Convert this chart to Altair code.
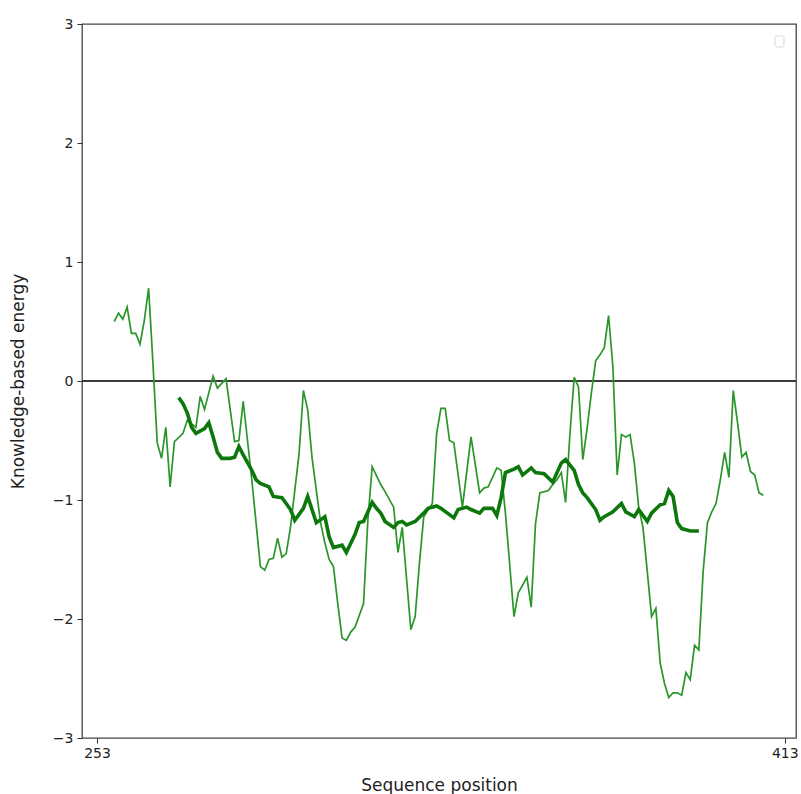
import altair as alt
import pandas as pd

# Window-averaged knowledge-based energy along the sequence (short window)
short_pos = [257, 258, 259, 260, 261, 262, 263, 264, 265, 266, 267, 268, 269, 270, 271, 273, 274, 276, 277, 278,
             279, 280, 281, 283, 285, 286, 287, 289, 291, 292, 293, 294, 295, 296, 297, 298, 300, 301, 302, 303,
             305, 306, 307, 308, 309, 310, 311, 312, 313, 315, 316, 317, 319, 320, 322, 323, 324, 326, 327, 328,
             329, 331, 332, 333, 334, 335, 336, 338, 340, 342, 343, 344, 346, 347, 348, 350, 351, 353, 354, 355,
             356, 358, 359, 360, 361, 362, 363, 364, 365, 366, 367, 368, 369, 370, 371, 372, 373, 374, 375, 376,
             377, 378, 379, 380, 381, 382, 383, 384, 385, 386, 387, 388, 389, 390, 391, 392, 393, 394, 395, 396,
             397, 398, 399, 400, 401, 402, 403, 404, 405, 406, 407, 408]
short_energy = [0.50, 0.57, 0.52, 0.62, 0.40, 0.40, 0.31, 0.51, 0.78, 0.15, -0.52, -0.65, -0.39, -0.89, -0.51, -0.44, -0.33, -0.39, -0.13, -0.24,
                -0.10, 0.04, -0.06, 0.02, -0.51, -0.50, -0.17, -0.83, -1.56, -1.59, -1.50, -1.49, -1.32, -1.48, -1.45, -1.23, -0.61, -0.08, -0.24, -0.64,
                -1.19, -1.36, -1.50, -1.56, -1.87, -2.16, -2.18, -2.11, -2.07, -1.87, -1.17, -0.72, -0.87, -0.93, -1.06, -1.44, -1.23, -2.09, -1.98, -1.53,
                -1.14, -1.03, -0.44, -0.23, -0.23, -0.50, -0.52, -1.06, -0.47, -0.94, -0.90, -0.89, -0.73, -0.75, -1.11, -1.98, -1.78, -1.65, -1.90, -1.20,
                -0.94, -0.92, -0.87, -0.83, -0.77, -1.02, -0.45, 0.03, -0.05, -0.66, -0.40, -0.10, 0.17, 0.22, 0.28, 0.55, 0.12, -0.79, -0.45, -0.47,
                -0.45, -0.69, -1.06, -1.23, -1.60, -1.98, -1.91, -2.37, -2.54, -2.66, -2.62, -2.62, -2.64, -2.45, -2.51, -2.22, -2.26, -1.60, -1.19, -1.10,
                -1.03, -0.83, -0.60, -0.81, -0.08, -0.35, -0.64, -0.60, -0.76, -0.79, -0.94, -0.96]

# Long-window average
long_pos = [272, 273, 274, 275, 276, 278, 279, 280, 281, 282, 284, 285, 286, 287, 289, 290, 291, 293, 294, 296,
            297, 298, 299, 301, 302, 303, 304, 306, 307, 308, 310, 311, 313, 314, 315, 317, 318, 319, 320, 322,
            323, 324, 325, 327, 329, 330, 332, 333, 336, 337, 339, 340, 342, 343, 345, 346, 347, 348, 350, 351,
            352, 354, 355, 357, 359, 360, 361, 362, 364, 365, 366, 367, 369, 370, 371, 373, 375, 376, 378, 379,
            381, 382, 384, 385, 386, 387, 388, 389, 391, 393]
long_energy = [-0.14, -0.19, -0.27, -0.39, -0.44, -0.40, -0.35, -0.47, -0.60, -0.65, -0.65, -0.64, -0.55, -0.62, -0.75, -0.83, -0.86, -0.89, -0.97, -0.98,
               -1.03, -1.08, -1.17, -1.07, -0.97, -1.08, -1.19, -1.14, -1.31, -1.40, -1.38, -1.44, -1.29, -1.19, -1.18, -1.02, -1.07, -1.11, -1.18, -1.23,
               -1.19, -1.18, -1.21, -1.18, -1.11, -1.07, -1.05, -1.07, -1.15, -1.08, -1.06, -1.08, -1.11, -1.07, -1.07, -1.13, -0.98, -0.77, -0.74, -0.72,
               -0.79, -0.73, -0.77, -0.78, -0.85, -0.77, -0.69, -0.66, -0.75, -0.87, -0.94, -0.98, -1.08, -1.17, -1.14, -1.10, -1.03, -1.10, -1.14, -1.08,
               -1.18, -1.11, -1.04, -1.03, -0.92, -0.97, -1.19, -1.24, -1.26, -1.26]

x_ticks = [253, 413]
y_ticks = [-3, -2, -1, 0, 1, 2, 3]
x_range = [249.5, 415.6]
y_range = [-3, 3]

short_df = pd.DataFrame({"pos": short_pos, "energy": short_energy})
long_df = pd.DataFrame({"pos": long_pos, "energy": long_energy})
zero_df = pd.DataFrame({"energy": [0]})

FONT = "DejaVu Sans"
x_scale = alt.Scale(domain=x_range, nice=False, zero=False)
y_scale = alt.Scale(domain=y_range, nice=False, zero=False)

x_axis = alt.Axis(values=x_ticks, title="Sequence position", grid=False, domain=False,
                  tickSize=5, tickColor="#333", labelColor="#222", labelFontSize=14, labelFont=FONT,
                  labelPadding=3, titleFont=FONT, titleFontSize=17, titleFontWeight="normal",
                  titleColor="#222", titleY=52, titleBaseline="alphabetic")
y_axis = alt.Axis(values=y_ticks, title="Knowledge-based energy", grid=False, domain=False, format="d",
                  tickSize=5, tickColor="#333", labelColor="#222", labelFontSize=14, labelFont=FONT,
                  labelPadding=4, titleFont=FONT, titleFontSize=17, titleFontWeight="normal",
                  titleColor="#222", titleX=-64, titleY=357, titleAngle=270,
                  titleAlign="center", titleBaseline="middle")

X = alt.X("pos:Q", scale=x_scale, axis=x_axis, title="Sequence position")
Y = alt.Y("energy:Q", scale=y_scale, axis=y_axis, title="Knowledge-based energy")

short_line = alt.Chart(short_df).mark_line(color="#2a962a", strokeWidth=1.7).encode(x=X, y=Y)

long_line = alt.Chart(long_df).mark_line(color="#0c780c", strokeWidth=3.6).encode(x=X, y=Y)

zero_rule = alt.Chart(zero_df).mark_rule(color="#3c3c3c", strokeWidth=2.2).encode(y=Y)

# empty legend frame in the upper right corner
legend_box = alt.Chart(pd.DataFrame({"k": [0]})).mark_rect(
    fill="white", stroke="#d8d8d8", strokeWidth=1, cornerRadius=2
).encode(x=alt.value(693), x2=alt.value(702), y=alt.value(12), y2=alt.value(23))

chart = alt.layer(zero_rule, short_line, long_line, legend_box).properties(
    width=714, height=714,
    autosize=alt.AutoSizeParams(type="none"),
    padding={"left": 82, "top": 24, "right": 5, "bottom": 56},
    background="white",
).configure_view(stroke="#444", strokeWidth=1.3)

chart.save("out.html", embed_options={"renderer": "svg", "actions": False})
